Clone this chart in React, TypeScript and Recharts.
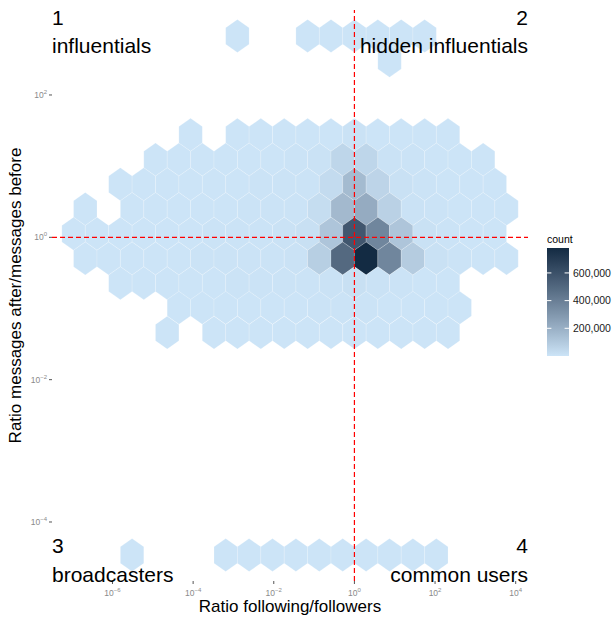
import React from 'react';
import { ScatterChart, Scatter, XAxis, YAxis, ReferenceLine } from 'recharts';

// hexbin rows (log10 of y), left-most cell centre of each row (log10 of x) and the counts per cell
const rowY = [2.829, 2.482, 1.44, 1.093, 0.745, 0.398, 0.051, -0.297, -0.644, -0.991, -1.339, -4.464];
const rowX0 = [-2.902, 0.871, -4.063, -4.933, -5.804, -6.675, -6.965, -6.675, -5.804, -4.353, -4.643, -5.514];
const binStepX = 0.5804;
const binStepY = 0.3473;

const rowCounts: (number | null)[][] = [
  [2, null, null, 4, 6, 8, 5, 3, 2],
  [3],
  [15, null, 80, 200, 350, 600, 1200, 6000, 1500, 600, 200, 40],
  [50, 180, 400, 700, 1000, 1500, 2200, 8000, 53000, 53000, 8000, 2500, 900, 300, 60],
  [60, 200, 450, 800, 1200, 1800, 2500, 3500, 5000, 33000, 158000, 60000, 10000, 3000, 1000, 300, 50],
  [20, null, 150, 350, 700, 1100, 1600, 2400, 3500, 5000, 28000, 163000, 219000, 72000, 8000, 3000, 900, 250, 40],
  [30, 120, 300, 600, 900, 1500, 2200, 3000, 4200, 6000, 15000, 117000, 577000, 371000, 117000, 12000, 3000, 600, 80],
  [40, 150, 400, 800, 1300, 2000, 2800, 3800, 5500, 9000, 80000, 494000, 780000, 371000, 90000, 10000, 2500, 500, 60],
  [50, 200, 500, 900, 1400, 2000, 2800, 3800, 5500, 9000, 14000, 9000, 4000, 1200, 200],
  [60, 250, 500, 800, 1100, 1500, 2000, 2500, 2200, 1400, 700, 250, 50],
  [10, null, 60, 150, 250, 350, 450, 500, 450, 300, 150, 70, 20],
  [2, null, null, null, 5, 8, 12, 18, 25, 30, 22, 14, 8, 4],
];

const xTicks = [-6, -4, -2, 0, 2, 4];
const yTicks = [-4, -2, 0, 2];
const legendTicks = [200000, 400000, 600000];
const xDomain = [-7.5, 4.305];
const yDomain = [-4.829, 3.194];

const W = 616;
const H = 618;
const margin = { top: 10, right: 88, bottom: 7, left: 22 };
const yAxisWidth = 30;
const xAxisHeight = 30;
const plotW = W - margin.left - margin.right - yAxisWidth;
const plotH = H - margin.top - margin.bottom - xAxisHeight;
const plotLeft = margin.left + yAxisWidth;
const plotRight = plotLeft + plotW;
const plotTop = margin.top;
const plotBottom = plotTop + plotH;

// hexagon size in pixels from the bin widths
const hexHalfW = (binStepX / 2) * (plotW / (xDomain[1] - xDomain[0]));
const hexR = (binStepY * (plotH / (yDomain[1] - yDomain[0]))) / 1.5;

const LOW = '#cce4f7';
const HIGH = '#132b43';
const FONT = '"Liberation Sans", Arial, Helvetica, sans-serif';

const data: { x: number; y: number; count: number }[] = [];
rowCounts.forEach((row, r) => {
  row.forEach((c, i) => {
    if (c !== null) data.push({ x: rowX0[r] + i * binStepX, y: rowY[r], count: c });
  });
});
const minCount = Math.min(...data.map(d => d.count));
const maxCount = Math.max(...data.map(d => d.count));

// Lab interpolation, like ggplot's gradient
const toLin = (c: number) => { c /= 255; return c <= 0.04045 ? c / 12.92 : Math.pow((c + 0.055) / 1.055, 2.4); };
const fromLin = (c: number) => {
  const v = c <= 0.0031308 ? 12.92 * c : 1.055 * Math.pow(c, 1 / 2.4) - 0.055;
  return Math.round(Math.max(0, Math.min(1, v)) * 255);
};
const toLab = (hex: string) => {
  const r = toLin(parseInt(hex.slice(1, 3), 16));
  const g = toLin(parseInt(hex.slice(3, 5), 16));
  const b = toLin(parseInt(hex.slice(5, 7), 16));
  const X = (0.4124 * r + 0.3576 * g + 0.1805 * b) / 0.95047;
  const Y = 0.2126 * r + 0.7152 * g + 0.0722 * b;
  const Z = (0.0193 * r + 0.1192 * g + 0.9505 * b) / 1.08883;
  const f = (t: number) => (t > 0.008856 ? Math.cbrt(t) : 7.787 * t + 16 / 116);
  return [116 * f(Y) - 16, 500 * (f(X) - f(Y)), 200 * (f(Y) - f(Z))];
};
const fromLab = ([L, a, bb]: number[]) => {
  const fy = (L + 16) / 116;
  const fx = fy + a / 500;
  const fz = fy - bb / 200;
  const inv = (t: number) => (t * t * t > 0.008856 ? t * t * t : (t - 16 / 116) / 7.787);
  const X = inv(fx) * 0.95047, Y = inv(fy), Z = inv(fz) * 1.08883;
  const r = 3.2406 * X - 1.5372 * Y - 0.4986 * Z;
  const g = -0.9689 * X + 1.8758 * Y + 0.0415 * Z;
  const b = 0.0557 * X - 0.204 * Y + 1.057 * Z;
  return `rgb(${fromLin(r)},${fromLin(g)},${fromLin(b)})`;
};
const lowLab = toLab(LOW);
const highLab = toLab(HIGH);
const colourAt = (t: number) => fromLab(lowLab.map((v, i) => v + (highLab[i] - v) * t));
const fillFor = (count: number) => colourAt((count - minCount) / (maxCount - minCount));

const Hex = (props: any) => {
  const { cx, cy } = props;
  const count = props.payload?.count ?? props.count;
  if (cx == null || cy == null) return null;
  const pts = [
    [cx, cy - hexR],
    [cx + hexHalfW, cy - hexR / 2],
    [cx + hexHalfW, cy + hexR / 2],
    [cx, cy + hexR],
    [cx - hexHalfW, cy + hexR / 2],
    [cx - hexHalfW, cy - hexR / 2],
  ].map(p => p.join(',')).join(' ');
  return <polygon points={pts} fill={fillFor(count)} stroke="#ffffff" strokeWidth={0.4} strokeOpacity={0.45} />;
};

const XTick = ({ x, y, payload }: any) => (
  <text x={x} y={y + 10} textAnchor="middle" fontFamily={FONT} fontSize={8.5} fill="#8a8a8a">
    10<tspan dy={-4} fontSize={6}>{String(payload.value).replace('-', '\u2212')}</tspan>
  </text>
);

const YTick = ({ x, y, payload }: any) => (
  <text x={x} y={y + 3} textAnchor="end" fontFamily={FONT} fontSize={8.5} fill="#8a8a8a">
    10<tspan dy={-4} fontSize={6}>{String(payload.value).replace('-', '\u2212')}</tspan>
  </text>
);

// colour bar geometry
const barX = 547;
const barW = 22;
const barTop = 248;
const barBottom = 356;
const barY = (v: number) => barBottom - ((v - minCount) / (maxCount - minCount)) * (barBottom - barTop);
const gradStops = Array.from({ length: 11 }, (_, i) => i / 10);

export default function App() {
  return (
    <div style={{ position: 'absolute', left: 0, top: 0, width: W, height: H, background: '#fff' }}>
      <ScatterChart width={W} height={H} margin={margin}>
        <XAxis
          type="number"
          dataKey="x"
          domain={xDomain}
          allowDataOverflow
          ticks={xTicks}
          interval={0}
          height={xAxisHeight}
          axisLine={false}
          tickLine={{ stroke: '#555' }}
          tickSize={3}
          tick={<XTick />}
        />
        <YAxis
          type="number"
          dataKey="y"
          domain={yDomain}
          allowDataOverflow
          ticks={yTicks}
          interval={0}
          width={yAxisWidth}
          axisLine={false}
          tickLine={{ stroke: '#555' }}
          tickSize={3}
          tick={<YTick />}
        />
        <Scatter data={data} shape={<Hex />} isAnimationActive={false} />
        <ReferenceLine x={0} stroke="#ff0000" strokeWidth={1.2} strokeDasharray="5 3" zIndex={1000} />
        <ReferenceLine y={0} stroke="#ff0000" strokeWidth={1.2} strokeDasharray="5 3" zIndex={1000} />
      </ScatterChart>

      <svg width={W} height={H} style={{ position: 'absolute', left: 0, top: 0, pointerEvents: 'none' }}>
        <defs>
          <linearGradient id="countGrad" x1="0" y1="1" x2="0" y2="0">
            {gradStops.map(t => (
              <stop key={t} offset={t} stopColor={colourAt(t)} />
            ))}
          </linearGradient>
        </defs>
        <g fontFamily={FONT} fill="#000">
          <text x={plotLeft} y={24.5} fontSize={21}>1</text>
          <text x={plotLeft} y={53} fontSize={21}>influentials</text>
          <text x={plotRight} y={24.5} fontSize={21} textAnchor="end">2</text>
          <text x={plotRight} y={53} fontSize={21} textAnchor="end">hidden influentials</text>
          <text x={plotLeft} y={553} fontSize={21}>3</text>
          <text x={plotLeft} y={581.5} fontSize={21}>broadcasters</text>
          <text x={plotRight} y={553} fontSize={21} textAnchor="end">4</text>
          <text x={plotRight} y={581.5} fontSize={21} textAnchor="end">common users</text>

          <text x={(plotLeft + plotRight) / 2} y={612} fontSize={17} textAnchor="middle">Ratio following/followers</text>
          <text
            x={0}
            y={0}
            fontSize={17}
            textAnchor="middle"
            transform={`translate(21, ${(plotTop + plotBottom) / 2}) rotate(-90)`}
          >
            Ratio messages after/messages before
          </text>

          <text x={barX} y={243} fontSize={10.5}>count</text>
        </g>
        <rect x={barX} y={barTop} width={barW} height={barBottom - barTop} fill="url(#countGrad)" />
        {legendTicks.map(v => (
          <g key={v}>
            <line x1={barX} x2={barX + 4.4} y1={barY(v)} y2={barY(v)} stroke="#fff" strokeWidth={1} />
            <line x1={barX + barW - 4.4} x2={barX + barW} y1={barY(v)} y2={barY(v)} stroke="#fff" strokeWidth={1} />
            <text x={barX + barW + 4} y={barY(v) + 3.8} fontFamily={FONT} fontSize={10.5} fill="#1a1a1a">
              {v.toLocaleString('en-US')}
            </text>
          </g>
        ))}
      </svg>
    </div>
  );
}
